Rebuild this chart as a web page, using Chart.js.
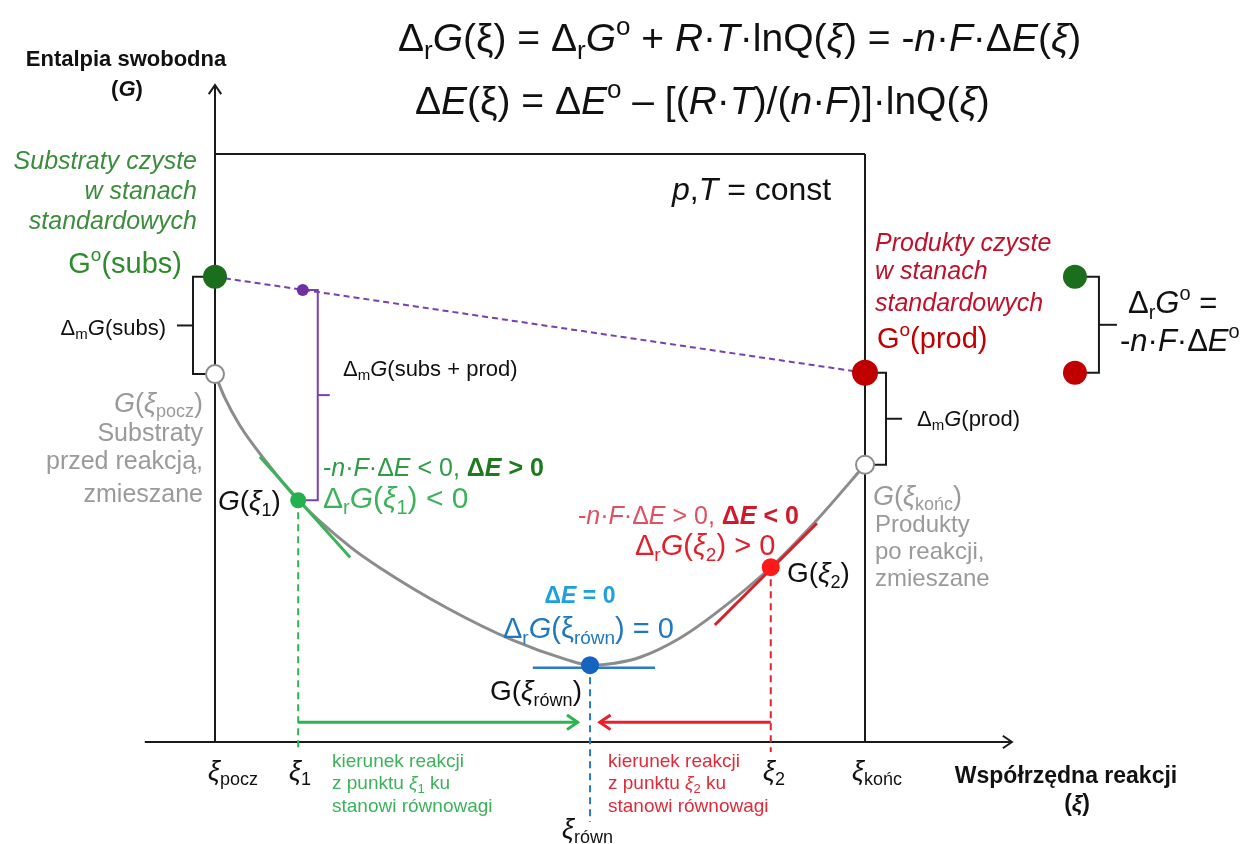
<!DOCTYPE html>
<html>
<head>
<meta charset="utf-8">
<script src="https://cdn.jsdelivr.net/npm/chart.js@4.4.0/dist/chart.umd.min.js"></script>
<style>
  html, body { margin: 0; padding: 0; background: #fff; }
  #wrap { width: 1244px; height: 844px; position: relative; }
</style>
</head>
<body>
<div id="wrap"><canvas id="chart"></canvas></div>
<script>
// Reaction coordinate: xi_pocz = 0, xi_konc = 1. Free enthalpy G in arbitrary units (x axis at G = 0)
const curveXi = [0, 0.015, 0.038, 0.080, 0.128, 0.208, 0.254, 0.357, 0.458, 0.542, 0.577, 0.615, 0.654, 0.715, 0.769, 0.855, 0.926, 1.0];
const curveG  = [5.60, 5.24, 4.82, 4.25, 3.68, 2.97, 2.65, 2.04, 1.55, 1.25, 1.17, 1.20, 1.29, 1.58, 1.95, 2.66, 3.38, 4.22];

// xi_1, xi_rown, xi_2 and G at those points
const keyXi = [0.128, 0.577, 0.855];
const keyG  = [3.68, 1.17, 2.66];

// pure substrates / products in standard states
const standardXi = [0, 1];
const standardG  = [7.08, 5.62];

// point on the dashed line of unmixed substrates + products
const mixXi = [0.135];
const mixG  = [6.88];

// tangents at xi_1, xi_rown, xi_2
const tangent1Xi = [0.069, 0.208], tangent1G = [4.34, 2.81];
const tangentEqXi = [0.489, 0.677], tangentEqG = [1.13, 1.13];
const tangent2Xi = [0.769, 0.926], tangent2G = [1.78, 3.33];

// small legend on the right (Delta_r G0)
const legendXi = 1.323;

// direction arrows: level and arrow tips
const arrowG = 0.30;
const arrowTipXi = [0.558, 0.592];

// axes extents
const axisXi = [-0.108, 1.226];
const axisGTop = 10.0;
const boxGTop = 8.95;

const FONT = '"Liberation Sans", Arial, sans-serif';

const pts = (xs, ys) => xs.map((x, i) => ({ x: x, y: ys[i] }));

// tiny markup: *italic*, #bold#, _{sub}, ^{sup}
function parse(s) {
    const out = [];
    let it = false, b = false, mode = 0, buf = '';
    const flush = () => { if (buf) { out.push({ t: buf, i: it, b: b, m: mode }); buf = ''; } };
    for (let k = 0; k < s.length; k++) {
        const c = s[k];
        if (c === '*') { flush(); it = !it; }
        else if (c === '#') { flush(); b = !b; }
        else if ((c === '_' || c === '^') && s[k + 1] === '{') { flush(); mode = c === '_' ? 1 : 2; k++; }
        else if (c === '}' && mode) { flush(); mode = 0; }
        else buf += c;
    }
    flush();
    return out;
}

function rich(ctx, s, x, y, size, color, align) {
    const segs = parse(s);
    const font = g => (g.i ? 'italic ' : '') + (g.b ? 'bold ' : '') + (g.m ? Math.round(size * 0.66) : size) + 'px ' + FONT;
    let w = 0;
    segs.forEach(g => { ctx.font = font(g); g.w = ctx.measureText(g.t).width; w += g.w; });
    let cx = align === 'right' ? x - w : align === 'center' ? x - w / 2 : x;
    ctx.fillStyle = color;
    ctx.textBaseline = 'alphabetic';
    ctx.textAlign = 'left';
    segs.forEach(g => {
        ctx.font = font(g);
        const dy = g.m === 1 ? size * 0.2 : g.m === 2 ? -size * 0.42 : 0;
        ctx.fillText(g.t, cx, y + dy);
        cx += g.w;
    });
    return cx;
}

function line(ctx, x1, y1, x2, y2) {
    ctx.beginPath(); ctx.moveTo(x1, y1); ctx.lineTo(x2, y2); ctx.stroke();
}

function chevron(ctx, x, y, ang, len) {
    ctx.beginPath();
    ctx.moveTo(x - len * Math.cos(ang - 0.6), y - len * Math.sin(ang - 0.6));
    ctx.lineTo(x, y);
    ctx.lineTo(x - len * Math.cos(ang + 0.6), y - len * Math.sin(ang + 0.6));
    ctx.stroke();
}

function bracket(ctx, xLine, yTop, yBot, xTop, xBot, tick) {
    ctx.beginPath();
    ctx.moveTo(xTop, yTop); ctx.lineTo(xLine, yTop);
    ctx.lineTo(xLine, yBot); ctx.lineTo(xBot, yBot);
    ctx.stroke();
    const ym = (yTop + yBot) / 2;
    line(ctx, xLine, ym, xLine + tick, ym);
}

const diagramPlugin = {
    id: 'diagram',
    beforeDatasetsDraw(chart) {
        const ctx = chart.ctx;
        const X = v => chart.scales.x.getPixelForValue(v);
        const Y = v => chart.scales.y.getPixelForValue(v);
        ctx.save();
        ctx.lineCap = 'butt';

        // axes and box
        ctx.strokeStyle = '#1a1a1a';
        ctx.lineWidth = 2;
        line(ctx, X(axisXi[0]), Y(0), X(axisXi[1]), Y(0));
        chevron(ctx, X(axisXi[1]), Y(0), 0, 11);
        line(ctx, X(0), Y(0), X(0), Y(axisGTop));
        chevron(ctx, X(0), Y(axisGTop), -Math.PI / 2, 11);
        line(ctx, X(0), Y(boxGTop), X(1), Y(boxGTop));
        line(ctx, X(1), Y(boxGTop), X(1), Y(0));

        // dashed verticals
        ctx.setLineDash([7, 5]);
        ctx.lineWidth = 2;
        ctx.strokeStyle = '#2fb350';
        line(ctx, X(keyXi[0]), Y(keyG[0]), X(keyXi[0]), Y(0) + 10);
        ctx.strokeStyle = '#2a7bc8';
        line(ctx, X(keyXi[1]), Y(keyG[1]), X(keyXi[1]), Y(0) + 80);
        ctx.strokeStyle = '#e8202a';
        line(ctx, X(keyXi[2]), Y(keyG[2]), X(keyXi[2]), Y(0) + 10);
        ctx.setLineDash([]);

        // direction arrows
        ctx.lineWidth = 3;
        ctx.strokeStyle = '#2fb350';
        line(ctx, X(keyXi[0]), Y(arrowG), X(arrowTipXi[0]), Y(arrowG));
        chevron(ctx, X(arrowTipXi[0]), Y(arrowG), 0, 13);
        ctx.strokeStyle = '#e8202a';
        line(ctx, X(keyXi[2]), Y(arrowG), X(arrowTipXi[1]), Y(arrowG));
        chevron(ctx, X(arrowTipXi[1]), Y(arrowG), Math.PI, 13);

        // brackets
        ctx.lineWidth = 2;
        ctx.strokeStyle = '#1a1a1a';
        bracket(ctx, X(0) - 22, Y(standardG[0]), Y(curveG[0]), X(0) - 6, X(0) - 6, -16);
        bracket(ctx, X(1) + 21, Y(standardG[1]), Y(curveG[curveG.length - 1]), X(1) + 6, X(1) + 6, 16);
        bracket(ctx, X(legendXi) + 24, Y(standardG[0]), Y(standardG[1]), X(legendXi) + 6, X(legendXi) + 6, 18);
        ctx.strokeStyle = '#7a3fb0';
        bracket(ctx, X(mixXi[0]) + 15, Y(mixG[0]), Y(keyG[0]), X(mixXi[0]), X(keyXi[0]) + 4, 12);
        ctx.restore();
    },
    afterDatasetsDraw(chart) {
        const ctx = chart.ctx;
        ctx.save();
        const black = '#111', grey = '#9a9a9a';

        // formulas
        rich(ctx, 'Δ_{r}*G*(ξ) = Δ_{r}*G*^{o} + *R*·*T*·lnQ(*ξ*) = -*n*·*F*·Δ*E*(*ξ*)', 398, 51, 39, black, 'left');
        rich(ctx, 'Δ*E*(ξ) = Δ*E*^{o} – [(*R*·*T*)/(*n*·*F*)]·lnQ(*ξ*)', 415, 114, 39, black, 'left');
        rich(ctx, '*p*,*T* = const', 672, 200, 32, black, 'left');

        // axis titles
        rich(ctx, '#Entalpia swobodna#', 126, 66, 22, black, 'center');
        rich(ctx, '#(*G*)#', 127, 96, 22, black, 'center');
        rich(ctx, '#Współrzędna reakcji#', 1066, 783, 23, black, 'center');
        rich(ctx, '#(*ξ*)#', 1077, 811, 23, black, 'center');

        // substrates side
        const gS = '#3b8d3b';
        rich(ctx, '*Substraty czyste*', 197, 169, 25, gS, 'right');
        rich(ctx, '*w stanach*', 197, 199, 25, gS, 'right');
        rich(ctx, '*standardowych*', 197, 229, 25, gS, 'right');
        rich(ctx, 'G^{o}(subs)', 182, 273, 29, '#2e8b2e', 'right');
        rich(ctx, 'Δ_{m}*G*(subs)', 166, 335, 22, black, 'right');
        rich(ctx, '*G*(*ξ*_{pocz})', 203, 412, 27, grey, 'right');
        rich(ctx, 'Substraty', 203, 441, 25, grey, 'right');
        rich(ctx, 'przed reakcją,', 203, 469, 25, grey, 'right');
        rich(ctx, 'zmieszane', 203, 502, 25, grey, 'right');

        // products side
        const rP = '#c0102a';
        rich(ctx, '*Produkty czyste*', 875, 251, 25, rP, 'left');
        rich(ctx, '*w stanach*', 875, 279, 25, rP, 'left');
        rich(ctx, '*standardowych*', 875, 311, 25, rP, 'left');
        rich(ctx, 'G^{o}(prod)', 877, 348, 29, '#c00000', 'left');
        rich(ctx, 'Δ_{m}*G*(prod)', 917, 426, 22, black, 'left');
        rich(ctx, '*G*(*ξ*_{końc})', 873, 505, 27, grey, 'left');
        rich(ctx, 'Produkty', 875, 532, 24, grey, 'left');
        rich(ctx, 'po reakcji,', 875, 559, 24, grey, 'left');
        rich(ctx, 'zmieszane', 875, 586, 24, grey, 'left');

        // legend Delta_r G0
        rich(ctx, 'Δ_{r}*G*^{o} =', 1128, 313, 31, black, 'left');
        rich(ctx, '-*n*·*F*·Δ*E*^{o}', 1120, 351, 31, black, 'left');

        // mixing
        rich(ctx, 'Δ_{m}*G*(subs + prod)', 343, 376, 22, black, 'left');

        // point xi_1
        rich(ctx, '*G*(*ξ*_{1})', 218, 510, 28, black, 'left');
        let e = rich(ctx, '-*n*·*F*·Δ*E* < 0, ', 323, 476, 25, '#2e9b46', 'left');
        rich(ctx, '#Δ*E* > 0#', e, 476, 25, '#1f7a1f', 'left');
        rich(ctx, 'Δ_{r}*G*(*ξ*_{1}) < 0', 323, 508, 30, '#3cb35a', 'left');

        // point xi_2
        e = rich(ctx, '-*n*·*F*·Δ*E* > 0, ', 578, 524, 25, '#e05060', 'left');
        rich(ctx, '#Δ*E* < 0#', e, 524, 25, '#d01a2a', 'left');
        rich(ctx, 'Δ_{r}*G*(*ξ*_{2}) > 0', 635, 555, 29, '#e0202a', 'left');
        rich(ctx, 'G(*ξ*_{2})', 787, 582, 28, black, 'left');

        // equilibrium
        rich(ctx, '#Δ*E* = 0#', 580, 603, 23, '#1ea0dc', 'center');
        rich(ctx, 'Δ_{r}*G*(ξ_{równ}) = 0', 503, 638, 29, '#1f78c0', 'left');
        rich(ctx, 'G(*ξ*_{równ})', 490, 700, 28, black, 'left');

        // tick labels
        rich(ctx, '*ξ*_{pocz}', 208, 780, 27, black, 'left');
        rich(ctx, '*ξ*_{1}', 289, 780, 27, black, 'left');
        rich(ctx, '*ξ*_{równ}', 562, 838, 27, black, 'left');
        rich(ctx, '*ξ*_{2}', 763, 780, 27, black, 'left');
        rich(ctx, '*ξ*_{końc}', 852, 780, 27, black, 'left');

        // direction notes
        const gA = '#3cb35a', rA = '#e02a3a';
        rich(ctx, 'kierunek reakcji', 332, 767, 19, gA, 'left');
        rich(ctx, 'z punktu *ξ*_{1} ku', 332, 789, 19, gA, 'left');
        rich(ctx, 'stanowi równowagi', 332, 812, 19, gA, 'left');
        rich(ctx, 'kierunek reakcji', 608, 767, 19, rA, 'left');
        rich(ctx, 'z punktu *ξ*_{2} ku', 608, 789, 19, rA, 'left');
        rich(ctx, 'stanowi równowagi', 608, 812, 19, rA, 'left');
        ctx.restore();
    }
};

const ctx = document.getElementById('chart').getContext('2d');
new Chart(ctx, {
    type: 'scatter',
    data: {
        datasets: [
            {
                label: 'punkty',
                data: pts(keyXi, keyG),
                backgroundColor: ['#22b14c', '#1565c0', '#ff1a1a'],
                borderWidth: 0,
                pointRadius: [8, 9, 9],
                order: 0
            },
            {
                label: 'standard',
                data: pts([...standardXi, legendXi, legendXi], [...standardG, ...standardG]),
                backgroundColor: ['#1b6e1b', '#c00000', '#1b6e1b', '#c00000'],
                borderWidth: 0,
                pointRadius: [12, 13, 12, 12],
                order: 0
            },
            {
                label: 'mieszane',
                data: pts([curveXi[0], curveXi[curveXi.length - 1]], [curveG[0], curveG[curveG.length - 1]]),
                backgroundColor: '#ffffff',
                borderColor: '#8c8c8c',
                borderWidth: 2,
                pointRadius: 9,
                order: 0
            },
            {
                label: 'subs + prod',
                data: pts(mixXi, mixG),
                backgroundColor: '#7030a0',
                borderWidth: 0,
                pointRadius: 6,
                order: 0
            },
            {
                label: 'styczna 1',
                data: pts(tangent1Xi, tangent1G),
                showLine: true, borderColor: '#3cb35a', borderWidth: 3, pointRadius: 0,
                order: 1
            },
            {
                label: 'styczna rown',
                data: pts(tangentEqXi, tangentEqG),
                showLine: true, borderColor: '#2a7bc8', borderWidth: 2.5, pointRadius: 0,
                order: 1
            },
            {
                label: 'styczna 2',
                data: pts(tangent2Xi, tangent2G),
                showLine: true, borderColor: '#d8202a', borderWidth: 3, pointRadius: 0,
                order: 1
            },
            {
                type: 'line',
                label: 'G(ξ)',
                data: pts(curveXi, curveG),
                borderColor: '#8c8c8c',
                borderWidth: 3,
                pointRadius: 0,
                fill: false,
                cubicInterpolationMode: 'monotone',
                order: 2
            },
            {
                label: 'G0',
                data: pts(standardXi, standardG),
                showLine: true, borderColor: '#7a3fb0', borderWidth: 2, borderDash: [6, 4], pointRadius: 0,
                order: 3
            }
        ]
    },
    options: {
        responsive: true,
        maintainAspectRatio: false,
        animation: false,
        events: [],
        layout: { autoPadding: false, padding: 0 },
        plugins: { legend: { display: false }, tooltip: { enabled: false }, title: { display: false } },
        scales: {
            x: { type: 'linear', min: -215 / 650, max: 1029 / 650, display: false },
            y: { type: 'linear', min: -102 / 65.7, max: 742 / 65.7, display: false }
        }
    },
    plugins: [diagramPlugin]
});
</script>
</body>
</html>
